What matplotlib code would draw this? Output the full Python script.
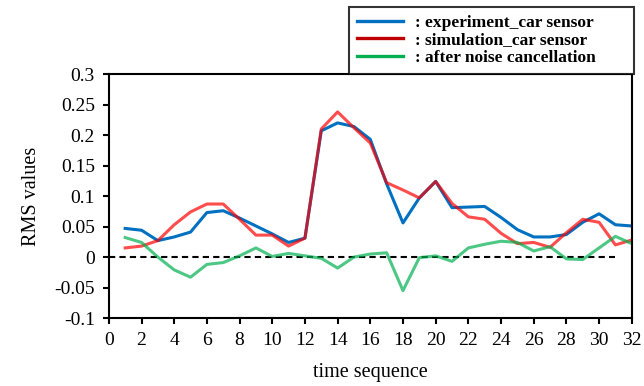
import matplotlib.pyplot as plt
from matplotlib.lines import Line2D

t = list(range(1, 33))
experiment = [0.047, 0.044, 0.027, 0.033, 0.041, 0.073, 0.076, 0.064, 0.051, 0.038,
              0.024, 0.031, 0.207, 0.220, 0.214, 0.193, 0.120, 0.056, 0.097, 0.124,
              0.081, 0.082, 0.083, 0.065, 0.045, 0.033, 0.033, 0.037, 0.057, 0.071,
              0.053, 0.051]
simulation = [0.015, 0.018, 0.027, 0.053, 0.074, 0.087, 0.087, 0.062, 0.036, 0.036,
              0.018, 0.031, 0.210, 0.238, 0.212, 0.187, 0.122, 0.110, 0.097, 0.124,
              0.088, 0.066, 0.062, 0.039, 0.022, 0.024, 0.016, 0.040, 0.062, 0.057,
              0.020, 0.028]
after_nc = [0.032, 0.024, 0.000, -0.021, -0.033, -0.012, -0.009, 0.002, 0.015, 0.001,
            0.006, 0.002, -0.002, -0.018, 0.000, 0.005, 0.007, -0.055, -0.001, 0.002,
            -0.007, 0.015, 0.021, 0.026, 0.024, 0.010, 0.017, -0.003, -0.004, 0.015,
            0.034, 0.022]
labels = [": experiment_car sensor", ": simulation_car sensor", ": after noise cancellation"]

plt.rcParams['font.family'] = ['Liberation Serif', 'DejaVu Serif']

fig = plt.figure(figsize=(6.44, 3.86), dpi=100)
ax = fig.add_axes([0.169, 0.176, 0.812, 0.632])

ax.plot([0, 31], [0, 0], color='black', linestyle='--', linewidth=1.5, dashes=(3, 2))
ax.plot(t, experiment, color='#0070C0', linewidth=2.2)
ax.plot(t, simulation, color='#FF0000', alpha=0.7, linewidth=2.2)
ax.plot(t, after_nc, color='#00B050', alpha=0.7, linewidth=2.2)

ax.set_xlim(0, 32)
ax.set_ylim(-0.1, 0.3)
ax.set_xticks(range(0, 33, 2))
ax.set_yticks([-0.1, -0.05, 0, 0.05, 0.1, 0.15, 0.2, 0.25, 0.3])
ax.set_yticklabels(['-0.1', '-0.05', '0', '0.05', '0.1', '0.15', '0.2', '0.25', '0.3'])
ax.tick_params(labelsize=14, direction='out', length=4, width=1.5, pad=6)
for s in ax.spines.values():
    s.set_linewidth(1.5)

ax.set_xlabel("time sequence", fontsize=14.5, labelpad=10)
ax.set_ylabel("RMS values", fontsize=14.5, labelpad=10)

handles = [Line2D([], [], color='#0070C0', linewidth=2.4),
           Line2D([], [], color='#C00000', linewidth=2.4),
           Line2D([], [], color='#00B050', linewidth=2.4)]
leg = fig.legend(handles, labels, loc='upper left',
                 bbox_to_anchor=(0.542, 0.811, 0.442, 0.171), mode='expand',
                 prop={'weight': 'bold', 'size': 12.5}, frameon=True, fancybox=False,
                 handlelength=2.65, handletextpad=0.7, labelspacing=0.08,
                 borderpad=0.45, borderaxespad=0)
leg.get_frame().set_edgecolor('black')
leg.get_frame().set_linewidth(1.5)

fig.savefig("out.png", dpi=100)
